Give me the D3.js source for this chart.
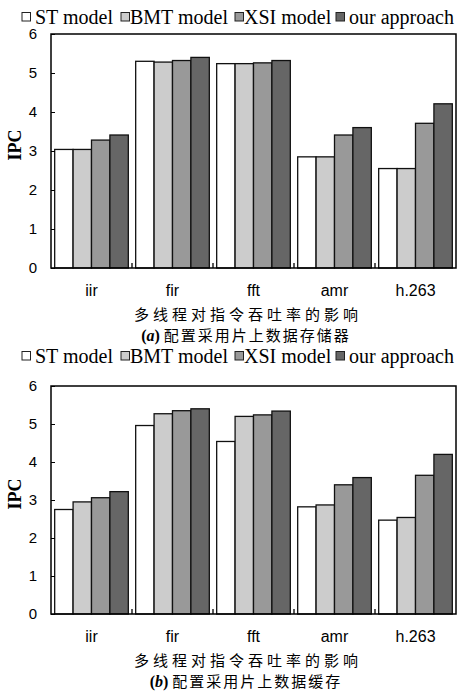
<!DOCTYPE html>
<html>
<head>
<meta charset="utf-8">
<script src="https://cdn.jsdelivr.net/npm/d3@7"></script>
<style>
  body { margin: 0; background: #fff; }
  svg text { fill: #000; }
</style>
</head>
<body>
<div id="chart"></div>
<script>
// Multi-thread IPC comparison, two panels

// Data
// ==========================
var categories = ["iir", "fir", "fft", "amr", "h.263"];
var seriesNames = ["ST model", "BMT model", "XSI model", "our approach"];
var yTicks = [0, 1, 2, 3, 4, 5, 6];

// panel (a): on-chip data memory
var stA = [3.04, 5.30, 5.24, 2.85, 2.55];
var bmtA = [3.04, 5.28, 5.24, 2.85, 2.55];
var xsiA = [3.28, 5.32, 5.26, 3.41, 3.71];
var oursA = [3.41, 5.40, 5.32, 3.60, 4.21];

// panel (b): on-chip data cache
var stB = [2.75, 4.96, 4.54, 2.82, 2.47];
var bmtB = [2.95, 5.27, 5.20, 2.87, 2.54];
var xsiB = [3.06, 5.35, 5.24, 3.40, 3.65];
var oursB = [3.22, 5.40, 5.34, 3.59, 4.20];

var xLabel = "多线程对指令吞吐率的影响";
var captionA = "配置采用片上数据存储器";
var captionB = "配置采用片上数据缓存";

var fills = ["#ffffff", "#cccccc", "#999999", "#666666"];

var width = 458;
var height = 698;

var svg = d3.select("#chart")
    .append("svg")
    .attr("width", width)
    .attr("height", height);

// draw one panel
function drawPanel(top, series, tag, caption, plotTop, plotBottom) {
    var g = svg.append("g");
    var left = 51, right = 456;

    // legend
    var legendX = [22, 121, 235, 336];
    var legendTextX = [35, 130, 244, 349];
    seriesNames.forEach(function(name, i) {
        g.append("rect")
            .attr("x", legendX[i])
            .attr("y", top + 12.5)
            .attr("width", 8.5)
            .attr("height", 8.5)
            .attr("fill", fills[i])
            .attr("stroke", "#222")
            .attr("stroke-width", 1);
        g.append("text")
            .attr("x", legendTextX[i])
            .attr("y", top + 24)
            .style("font-family", "'Liberation Serif', serif")
            .style("font-size", "20px")
            .text(name);
    });

    var x = d3.scaleBand()
        .domain(categories)
        .range([left, right])
        .paddingInner(0)
        .paddingOuter(0);

    var x1 = d3.scaleBand()
        .domain(d3.range(series.length))
        .range([0, x.bandwidth()])
        .paddingOuter(0.2)
        .paddingInner(0);

    var y = d3.scaleLinear()
        .domain([0, 6])
        .range([plotBottom, plotTop]);

    // bars
    categories.forEach(function(cat, ci) {
        series.forEach(function(vals, si) {
            g.append("rect")
                .attr("x", x(cat) + x1(si))
                .attr("y", y(vals[ci]))
                .attr("width", x1.bandwidth())
                .attr("height", y(0) - y(vals[ci]))
                .attr("fill", fills[si])
                .attr("stroke", "#111")
                .attr("stroke-width", 1.3);
        });
    });

    // frame
    g.append("rect")
        .attr("x", left)
        .attr("y", plotTop)
        .attr("width", right - left)
        .attr("height", plotBottom - plotTop)
        .attr("fill", "none")
        .attr("stroke", "#000")
        .attr("stroke-width", 1.5);

    // y axis, ticks inward
    var yAxis = d3.axisLeft(y)
        .tickValues(yTicks)
        .tickSize(-4)
        .tickPadding(14)
        .tickFormat(d3.format("d"));
    var ya = g.append("g")
        .attr("transform", "translate(" + left + ",0)")
        .call(yAxis);
    ya.select(".domain").remove();
    ya.selectAll("text")
        .style("font-family", "'Liberation Sans', Arial, sans-serif")
        .style("font-size", "15px");

    // x axis, ticks between categories pointing up
    var xAxis = d3.axisBottom(x).tickSize(0).tickPadding(17);
    var xa = g.append("g")
        .attr("transform", "translate(0," + plotBottom + ")")
        .call(xAxis);
    xa.select(".domain").remove();
    xa.selectAll("text")
        .style("font-family", "'Liberation Sans', Arial, sans-serif")
        .style("font-size", "16px");

    categories.slice(1).forEach(function(cat) {
        g.append("line")
            .attr("x1", x(cat)).attr("x2", x(cat))
            .attr("y1", plotBottom).attr("y2", plotBottom - 5)
            .attr("stroke", "#000")
            .attr("stroke-width", 1.3);
    });

    // y label
    g.append("text")
        .attr("transform", "translate(21," + ((plotTop + plotBottom) / 2 - 6) + ")rotate(-90)")
        .attr("text-anchor", "middle")
        .style("font-family", "'Liberation Serif', serif")
        .style("font-weight", "bold")
        .style("font-size", "18px")
        .text("IPC");

    // x title and caption
    g.append("text")
        .attr("x", 248)
        .attr("y", plotBottom + 52)
        .attr("text-anchor", "middle")
        .style("font-family", "'Noto Sans CJK SC', sans-serif")
        .style("font-size", "15px")
        .style("letter-spacing", "4px")
        .text(xLabel);

    var cap = g.append("text")
        .attr("x", 246)
        .attr("y", plotBottom + 72.5)
        .attr("text-anchor", "middle")
        .style("font-size", "15px");
    cap.append("tspan")
        .style("font-family", "'Liberation Serif', serif")
        .style("font-weight", "bold")
        .style("font-size", "16px")
        .text("(");
    cap.append("tspan")
        .style("font-family", "'Liberation Serif', serif")
        .style("font-weight", "bold")
        .style("font-style", "italic")
        .style("font-size", "16px")
        .text(tag);
    cap.append("tspan")
        .style("font-family", "'Liberation Serif', serif")
        .style("font-weight", "bold")
        .style("font-size", "16px")
        .text(") ");
    cap.append("tspan")
        .style("font-family", "'Noto Sans CJK SC', sans-serif")
        .style("letter-spacing", "2px")
        .text(caption);
}

drawPanel(0, [stA, bmtA, xsiA, oursA], "a", captionA, 34, 268);
drawPanel(339, [stB, bmtB, xsiB, oursB], "b", captionB, 386, 614);
</script>
</body>
</html>
